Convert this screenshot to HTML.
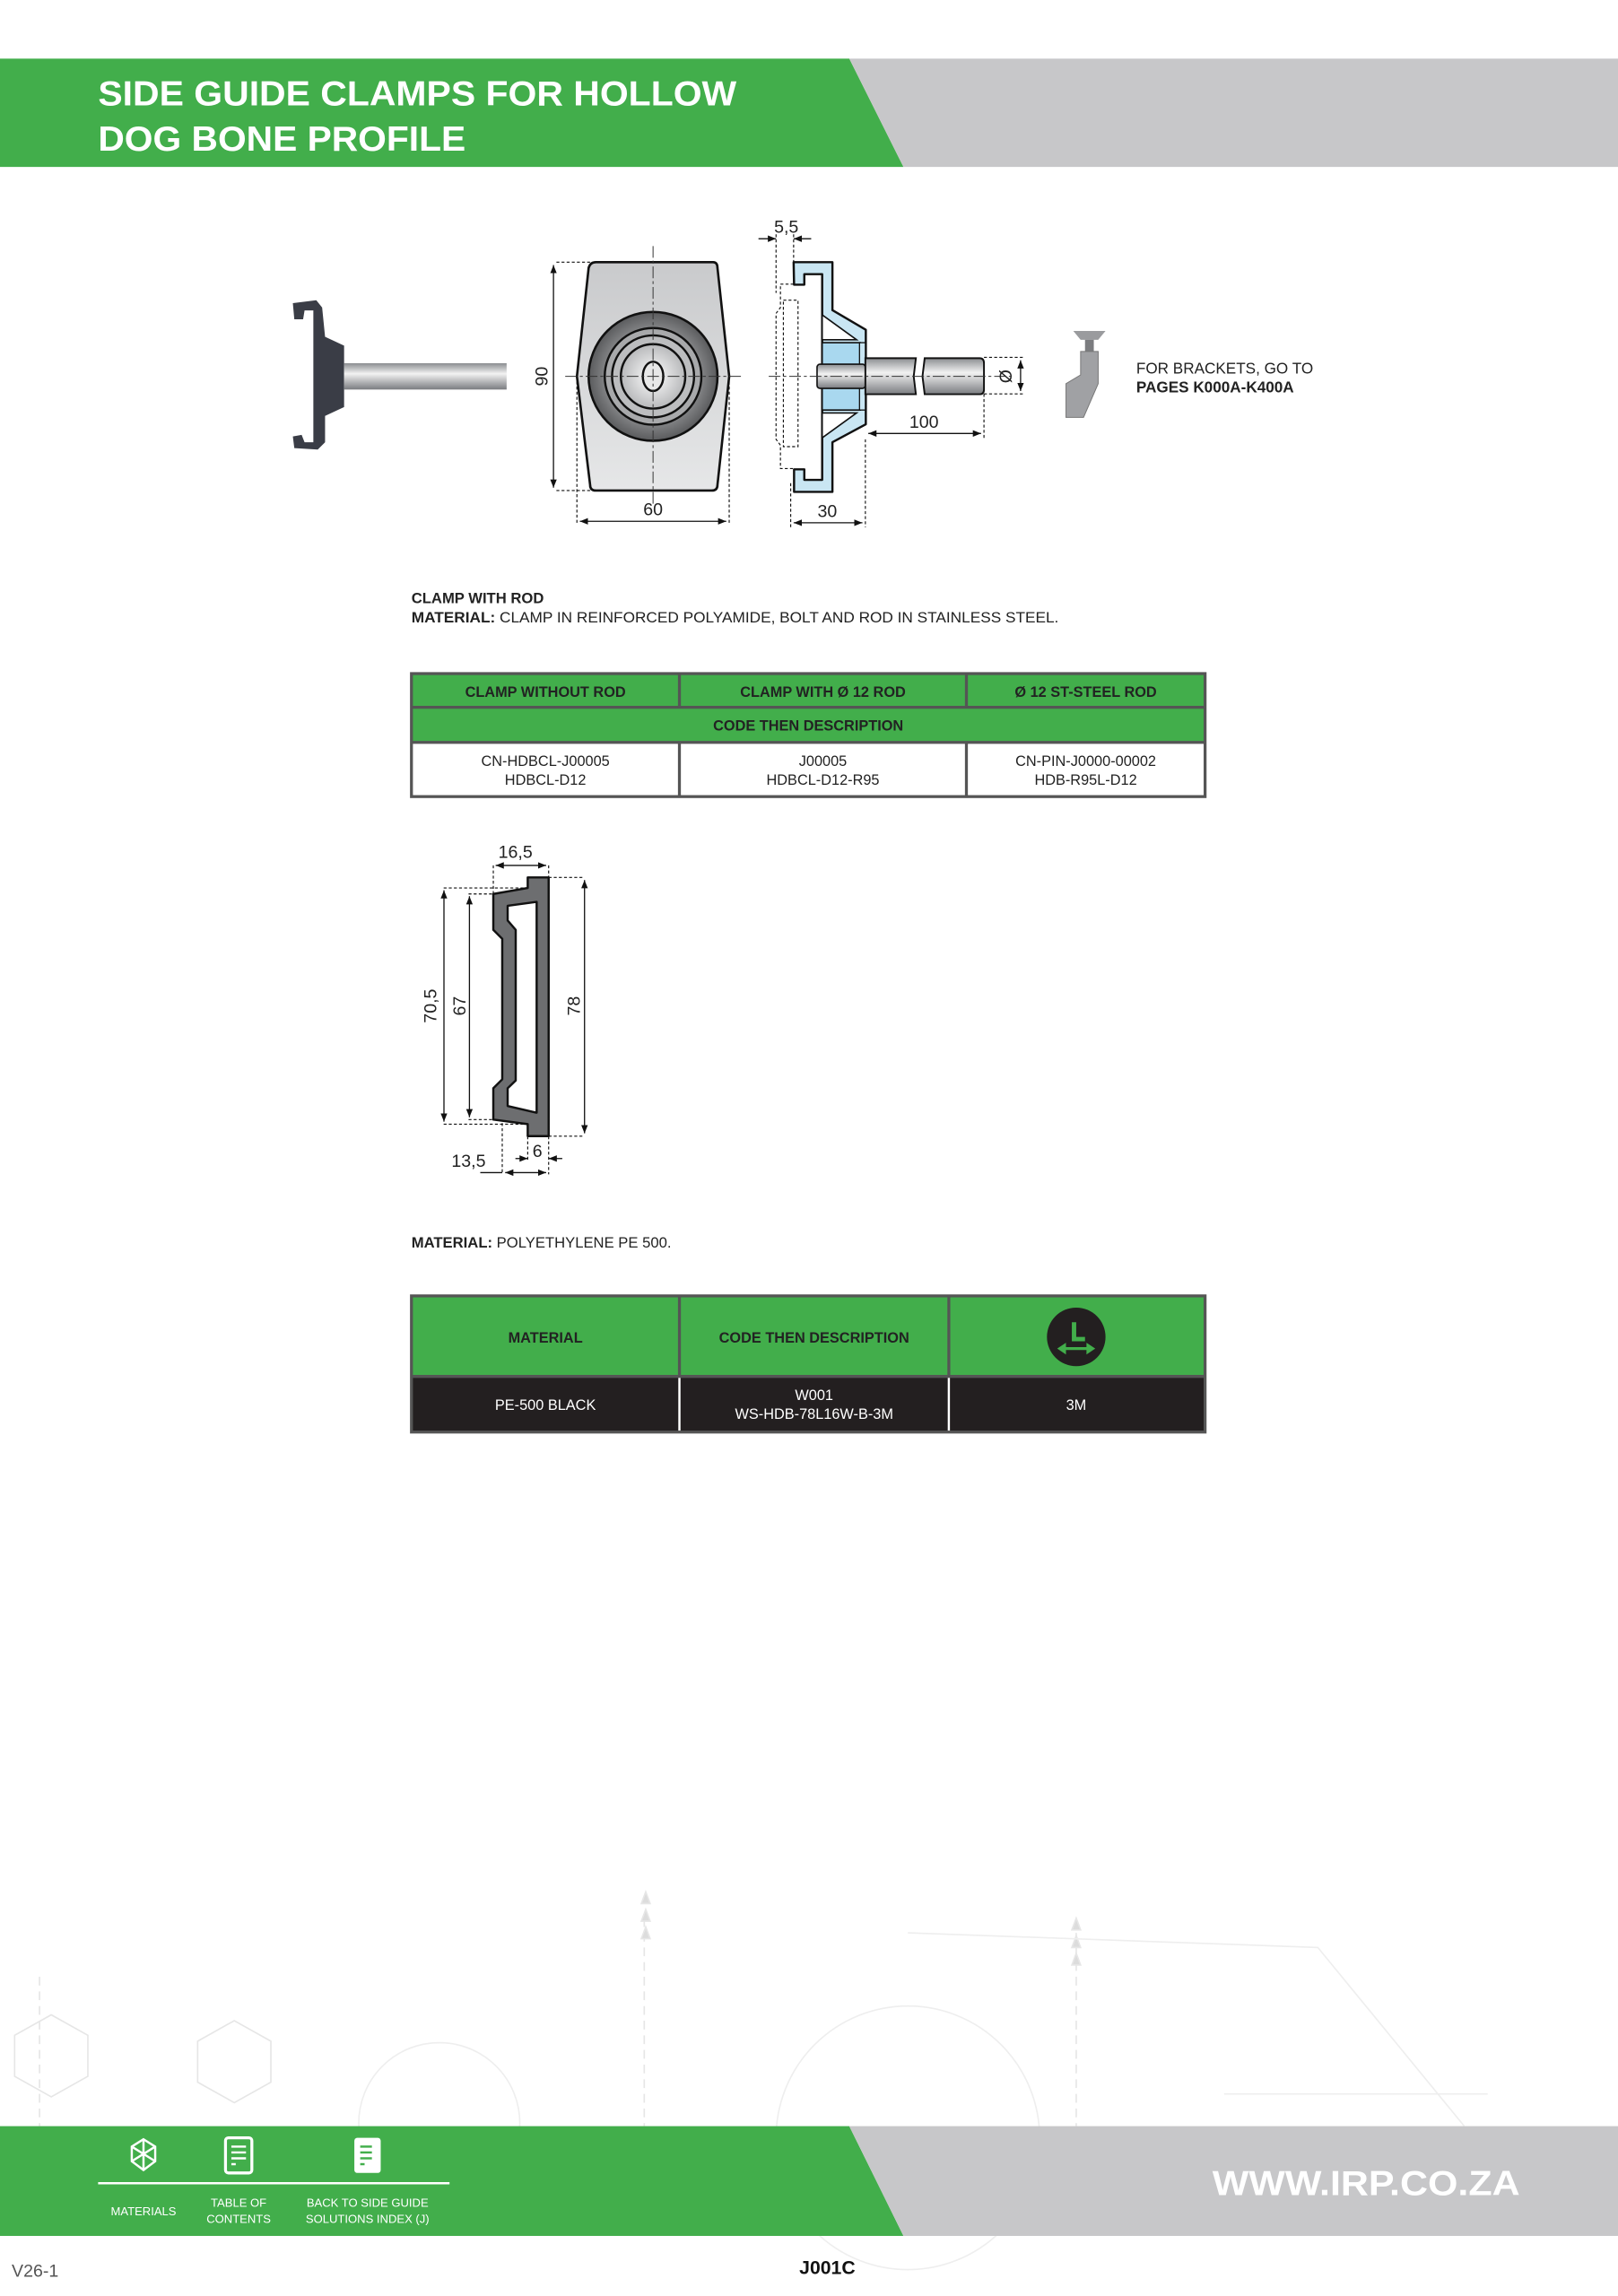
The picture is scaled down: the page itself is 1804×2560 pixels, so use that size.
<!DOCTYPE html>
<html><head><meta charset="utf-8"><style>
html,body{margin:0;padding:0;background:#fff}
svg{display:block}
text{font-family:"Liberation Sans",sans-serif}
</style></head><body>
<svg width="1804" height="2560" viewBox="0 0 1105 1568" xmlns="http://www.w3.org/2000/svg">
<defs>
<linearGradient id="body" x1="0" y1="0" x2="0" y2="1"><stop offset="0" stop-color="#c9cacc"/><stop offset="1" stop-color="#e6e7e8"/></linearGradient>
<linearGradient id="rod" x1="0" y1="0" x2="0" y2="1"><stop offset="0" stop-color="#8a8d90"/><stop offset="0.4" stop-color="#f2f2f2"/><stop offset="1" stop-color="#7a7c80"/></linearGradient>
<radialGradient id="ring" cx="0.5" cy="0.5" r="0.5"><stop offset="0.6" stop-color="#9a9b9d"/><stop offset="1" stop-color="#5a5b5d"/></radialGradient>
<radialGradient id="hub" cx="0.5" cy="0.5" r="0.5"><stop offset="0" stop-color="#ffffff"/><stop offset="1" stop-color="#b8b9bb"/></radialGradient>
<marker id="a" viewBox="0 0 10 10" refX="10" refY="5" markerWidth="7" markerHeight="7" orient="auto-start-reverse"><path d="M0,1 L10,5 L0,9 Z" fill="#111"/></marker>
</defs>

<!-- faint background -->
<g stroke="#e6e6e6" fill="none" stroke-width="1">
<line x1="440" y1="1310" x2="440" y2="1452" stroke-dasharray="6 4"/>
<line x1="735" y1="1320" x2="735" y2="1452" stroke-dasharray="6 4"/>
<line x1="27" y1="1350" x2="27" y2="1452" stroke-dasharray="6 4"/>
<path d="M438,1300 l3,-8 l3,8 z M438,1312 l3,-8 l3,8 z M438,1324 l3,-8 l3,8 z" fill="#dcdcdc"/>
<path d="M732,1318 l3,-8 l3,8 z M732,1330 l3,-8 l3,8 z M732,1342 l3,-8 l3,8 z" fill="#dcdcdc"/>
<polygon points="10,1390 35,1376 60,1390 60,1418 35,1432 10,1418"/>
<polygon points="135,1394 160,1380 185,1394 185,1422 160,1436 135,1422"/>
<circle cx="300" cy="1450" r="55" stroke="#eeeeee"/>
<circle cx="620" cy="1460" r="90" stroke="#eeeeee"/>
<path d="M620,1320 L900,1330 L1000,1452" stroke="#eeeeee"/>
<path d="M836,1430 L1016,1430" stroke="#eeeeee"/>
</g>

<!-- header -->
<polygon points="0,40 580,40 617,114 0,114" fill="#42ae4b"/>
<polygon points="580,40 1105,40 1105,114 617,114" fill="#c7c7c9"/>
<text x="67" y="72" font-size="24" font-weight="bold" fill="#fff" textLength="436" lengthAdjust="spacingAndGlyphs">SIDE GUIDE CLAMPS FOR HOLLOW</text>
<text x="67" y="103" font-size="24" font-weight="bold" fill="#fff" textLength="251" lengthAdjust="spacingAndGlyphs">DOG BONE PROFILE</text>

<!-- photo clamp -->
<path d="M200,207 L216,205 L220,210 L222,230 L235,236 L235,278 L222,284 L222,302 L217,307 L201,306 L200,298 L206,297 L208,302 L214,302 L214,212 L208,212 L207,218 L201,218 Z" fill="#3a3d46"/>
<rect x="235" y="248" width="111" height="18" fill="url(#rod)"/>

<!-- front view -->
<g stroke="#111" stroke-width="0.7" fill="none">
<line x1="380" y1="179" x2="405" y2="179" stroke-dasharray="2 1.5"/>
<line x1="380" y1="335" x2="404" y2="335" stroke-dasharray="2 1.5"/>
<line x1="394" y1="257" x2="394" y2="358" stroke-dasharray="2 1.5"/>
<line x1="498" y1="257" x2="498" y2="358" stroke-dasharray="2 1.5"/>
</g>
<path d="M407,179 L487,179 Q490,179 490,183 L498,257 L490,331 Q490,335 486,335 L407,335 Q403,335 403,331 L394,257 L402,183 Q403,179 407,179 Z" fill="url(#body)" stroke="#111" stroke-width="1.6"/>
<circle cx="446" cy="257" r="44" fill="url(#ring)" stroke="#111" stroke-width="1.6"/>
<circle cx="446" cy="257" r="33" fill="#a8a9ab" stroke="#111" stroke-width="1.5"/>
<circle cx="446" cy="257" r="28" fill="#bcbdbf" stroke="#111" stroke-width="1.5"/>
<circle cx="446" cy="257" r="22" fill="url(#hub)" stroke="#111" stroke-width="1.5"/>
<ellipse cx="446" cy="257" rx="7" ry="10" fill="#e8e8e8" stroke="#111" stroke-width="1.5"/>
<g stroke="#333" stroke-width="0.6" stroke-dasharray="8 2 2 2">
<line x1="386" y1="257" x2="506" y2="257"/>
<line x1="446" y1="168" x2="446" y2="345"/>
</g>
<line x1="378" y1="181" x2="378" y2="333" stroke="#111" stroke-width="0.8" marker-start="url(#a)" marker-end="url(#a)"/>
<text x="374" y="257" font-size="12" fill="#222" text-anchor="middle" transform="rotate(-90 374 257)">90</text>
<line x1="396" y1="356" x2="496" y2="356" stroke="#111" stroke-width="0.8" marker-start="url(#a)" marker-end="url(#a)"/>
<text x="446" y="352" font-size="12" fill="#222" text-anchor="middle">60</text>

<!-- side view -->
<g stroke="#111" stroke-width="0.7" fill="none" stroke-dasharray="2 1.5">
<line x1="530" y1="160" x2="530" y2="200"/>
<line x1="542" y1="160" x2="542" y2="180"/>
<path d="M542,194 L533,194 L533,210 L530,214 L530,300 L533,304 L533,320 L542,320"/>
<rect x="535" y="205" width="10" height="100"/>
<line x1="540" y1="330" x2="540" y2="360"/>
<line x1="591" y1="300" x2="591" y2="360"/>
<line x1="672" y1="269" x2="672" y2="300"/>
<line x1="672" y1="244" x2="700" y2="244"/>
<line x1="672" y1="269" x2="700" y2="269"/>
</g>
<path d="M542,179 L568.5,179 L568.5,211.8 L591.3,225.2 L591.3,289.7 L568.5,302 L568.5,335.9 L542.3,335.9 L542.3,320.5 L549.3,320.5 L549.3,327.7 L561.5,327.7 L561.5,187.2 L549.3,187.2 L549.3,194.4 L542.3,194.4 Z" fill="#c9e6f3" stroke="#111" stroke-width="1.5" stroke-linejoin="round"/>
<path d="M561.5,215 L585,232 L561.5,232 Z M561.5,299 L585,282 L561.5,282 Z" fill="#fff" stroke="#111" stroke-width="1"/>
<rect x="561.5" y="234" width="26" height="46" fill="#a9d8ef" stroke="#111" stroke-width="1"/>
<rect x="587" y="234" width="4" height="46" fill="#c9e6f3" stroke="#111" stroke-width="0.8"/>
<rect x="558" y="248.7" width="33" height="16.5" rx="2" fill="url(#rod)" stroke="#111" stroke-width="1"/>
<path d="M591,244.6 L625.5,244.6 L624,257 L625.5,269.2 L591,269.2 Z" fill="url(#rod)" stroke="#111" stroke-width="1.2"/>
<path d="M631.5,244.6 L669,244.6 Q672,244.6 672,248 L672,266 Q672,269.2 669,269.2 L631.5,269.2 L630,257 Z" fill="url(#rod)" stroke="#111" stroke-width="1.2"/>
<line x1="525" y1="257" x2="690" y2="257" stroke="#333" stroke-width="0.6" stroke-dasharray="8 2 2 2"/>
<line x1="518" y1="163" x2="530" y2="163" stroke="#111" stroke-width="0.8" marker-end="url(#a)"/>
<line x1="554" y1="163" x2="542" y2="163" stroke="#111" stroke-width="0.8" marker-end="url(#a)"/>
<text x="537" y="159" font-size="12" fill="#222" text-anchor="middle">5,5</text>
<line x1="593" y1="296" x2="670" y2="296" stroke="#111" stroke-width="0.8" marker-start="url(#a)" marker-end="url(#a)"/>
<text x="631" y="292" font-size="12" fill="#222" text-anchor="middle">100</text>
<line x1="542" y1="357" x2="589" y2="357" stroke="#111" stroke-width="0.8" marker-start="url(#a)" marker-end="url(#a)"/>
<text x="565" y="353" font-size="12" fill="#222" text-anchor="middle">30</text>
<line x1="697" y1="246" x2="697" y2="267" stroke="#111" stroke-width="0.8" marker-start="url(#a)" marker-end="url(#a)"/>
<text x="691" y="257" font-size="12" fill="#222" text-anchor="middle" transform="rotate(-90 691 257)">Ø</text>

<!-- bracket -->
<path d="M733,226 L755,226 L750,232 L738,232 Z" fill="#9a9b9e"/>
<rect x="741" y="232" width="6" height="8" fill="#7b7c7f"/>
<path d="M738,240 L750,240 L750,262 L740,285 L728,285 L728,262 L738,256 Z" fill="#a0a1a4" stroke="#777" stroke-width="0.6"/>
<text x="776" y="255" font-size="10.5" fill="#222">FOR BRACKETS, GO TO</text>
<text x="776" y="268" font-size="10.5" font-weight="bold" fill="#222">PAGES K000A-K400A</text>

<!-- section 1 text -->
<text x="281" y="412" font-size="10.2" font-weight="bold" fill="#222">CLAMP WITH ROD</text>
<text x="281" y="425" font-size="10.2" fill="#222" textLength="442" lengthAdjust="spacingAndGlyphs"><tspan font-weight="bold">MATERIAL:</tspan> CLAMP IN REINFORCED POLYAMIDE, BOLT AND ROD IN STAINLESS STEEL.</text>

<!-- table 1 -->
<rect x="281" y="460" width="542" height="47" fill="#42ae4b"/>
<rect x="281" y="507" width="542" height="37" fill="#fff"/>
<g stroke="#555" stroke-width="2" fill="none">
<rect x="281" y="460" width="542" height="84"/>
<line x1="281" y1="483" x2="823" y2="483"/>
<line x1="281" y1="507" x2="823" y2="507"/>
<line x1="464" y1="460" x2="464" y2="483"/>
<line x1="660" y1="460" x2="660" y2="483"/>
<line x1="464" y1="507" x2="464" y2="544"/>
<line x1="660" y1="507" x2="660" y2="544"/>
</g>
<g font-size="10" font-weight="bold" fill="#222" text-anchor="middle">
<text x="372.5" y="476">CLAMP WITHOUT ROD</text>
<text x="562" y="476">CLAMP WITH Ø 12 ROD</text>
<text x="741.5" y="476">Ø 12 ST-STEEL ROD</text>
<text x="552" y="499">CODE THEN DESCRIPTION</text>
</g>
<g font-size="10" fill="#222" text-anchor="middle">
<text x="372.5" y="523">CN-HDBCL-J00005</text>
<text x="372.5" y="536">HDBCL-D12</text>
<text x="562" y="523">J00005</text>
<text x="562" y="536">HDBCL-D12-R95</text>
<text x="741.5" y="523">CN-PIN-J0000-00002</text>
<text x="741.5" y="536">HDB-R95L-D12</text>
</g>

<!-- profile -->
<g stroke="#111" stroke-width="0.7" fill="none" stroke-dasharray="2 1.5">
<line x1="336.9" y1="591" x2="336.9" y2="610"/>
<line x1="374.7" y1="591" x2="374.7" y2="599"/>
<line x1="374.7" y1="599.2" x2="399" y2="599.2"/>
<line x1="374.7" y1="775.9" x2="399" y2="775.9"/>
<line x1="303" y1="606.4" x2="360" y2="606.4"/>
<line x1="303" y1="767.7" x2="360" y2="767.7"/>
<line x1="320" y1="610.5" x2="337" y2="610.5"/>
<line x1="320" y1="764.6" x2="337" y2="764.6"/>
<line x1="343" y1="760" x2="343" y2="802"/>
<line x1="360.4" y1="776" x2="360.4" y2="793"/>
<line x1="374.7" y1="776" x2="374.7" y2="802"/>
</g>
<path d="M360.4,599.2 L374.7,599.2 L374.7,775.9 L360.4,775.9 L360.4,767.7 L336.9,764.6 L336.9,743.2 L343,737.1 L343,641.1 L336.9,635 L336.9,610.5 L360.4,606.4 Z" fill="#6d6e70" stroke="#111" stroke-width="1.5" stroke-linejoin="round"/>
<path d="M346.7,618.6 L366.5,615.9 L366.5,759.9 L346.7,755.3 L346.7,743.2 L352.2,737.9 L352.2,635 L346.7,628.6 Z" fill="#fff" stroke="#111" stroke-width="1.5" stroke-linejoin="round"/>
<line x1="338.5" y1="591" x2="373" y2="591" stroke="#111" stroke-width="0.8" marker-start="url(#a)" marker-end="url(#a)"/>
<text x="352" y="586" font-size="12" fill="#222" text-anchor="middle">16,5</text>
<line x1="399.2" y1="601" x2="399.2" y2="774" stroke="#111" stroke-width="0.8" marker-start="url(#a)" marker-end="url(#a)"/>
<text x="396" y="687" font-size="12" fill="#222" text-anchor="middle" transform="rotate(-90 396 687)">78</text>
<line x1="303.2" y1="608" x2="303.2" y2="766" stroke="#111" stroke-width="0.8" marker-start="url(#a)" marker-end="url(#a)"/>
<text x="298" y="687" font-size="12" fill="#222" text-anchor="middle" transform="rotate(-90 298 687)">70,5</text>
<line x1="320.6" y1="612" x2="320.6" y2="763" stroke="#111" stroke-width="0.8" marker-start="url(#a)" marker-end="url(#a)"/>
<text x="318" y="687" font-size="12" fill="#222" text-anchor="middle" transform="rotate(-90 318 687)">67</text>
<line x1="352" y1="791.2" x2="360.4" y2="791.2" stroke="#111" stroke-width="0.8" marker-end="url(#a)"/>
<line x1="384" y1="791.2" x2="374.7" y2="791.2" stroke="#111" stroke-width="0.8" marker-end="url(#a)"/>
<text x="367" y="790" font-size="12" fill="#222" text-anchor="middle">6</text>
<line x1="328" y1="800.8" x2="343" y2="800.8" stroke="#111" stroke-width="0.8"/>
<line x1="345" y1="800.8" x2="373" y2="800.8" stroke="#111" stroke-width="0.8" marker-start="url(#a)" marker-end="url(#a)"/>
<text x="320" y="797" font-size="12" fill="#222" text-anchor="middle">13,5</text>

<text x="281" y="852" font-size="10.2" fill="#222"><tspan font-weight="bold">MATERIAL:</tspan> POLYETHYLENE PE 500.</text>

<!-- table 2 -->
<rect x="281" y="885" width="542" height="55" fill="#42ae4b"/>
<rect x="281" y="940" width="542" height="38" fill="#231f20"/>
<g stroke="#555" stroke-width="2" fill="none">
<rect x="281" y="885" width="542" height="93"/>
<line x1="281" y1="940" x2="823" y2="940"/>
<line x1="464" y1="885" x2="464" y2="940"/>
<line x1="648" y1="885" x2="648" y2="940"/>
</g>
<line x1="464" y1="941" x2="464" y2="977" stroke="#fff" stroke-width="1.5"/>
<line x1="648" y1="941" x2="648" y2="977" stroke="#fff" stroke-width="1.5"/>
<g font-size="10" font-weight="bold" fill="#222" text-anchor="middle">
<text x="372.5" y="917">MATERIAL</text>
<text x="556" y="917">CODE THEN DESCRIPTION</text>
</g>
<circle cx="735" cy="913" r="20" fill="#231f20"/>
<path d="M732,903 L735,903 L735,913 L741,913 L741,916 L732,916 Z" fill="#42ae4b"/>
<path d="M722,921 L728,917 L728,920 L742,920 L742,917 L748,921 L742,925 L742,922 L728,922 L728,925 Z" fill="#42ae4b"/>
<g font-size="10" fill="#fff" text-anchor="middle">
<text x="372.5" y="963">PE-500 BLACK</text>
<text x="556" y="956">W001</text>
<text x="556" y="969">WS-HDB-78L16W-B-3M</text>
<text x="735" y="963">3M</text>
</g>

<!-- footer -->
<polygon points="0,1452 580,1452 617,1527 0,1527" fill="#42ae4b"/>
<polygon points="580,1452 1105,1452 1105,1527 617,1527" fill="#c7c7c9"/>
<g fill="none" stroke="#fff" stroke-width="1.5">
<path d="M98,1461 L106,1466 L106,1476 L98,1482 L90,1476 L90,1466 Z"/>
<path d="M90,1466 L106,1476 M106,1466 L90,1476 M98,1461 L98,1482"/>
</g>
<rect x="154" y="1460" width="18" height="24" rx="2" fill="none" stroke="#fff" stroke-width="2"/>
<g stroke="#fff" stroke-width="1.5"><line x1="158" y1="1466" x2="168" y2="1466"/><line x1="158" y1="1470" x2="168" y2="1470"/><line x1="158" y1="1474" x2="168" y2="1474"/><line x1="158" y1="1478" x2="161" y2="1478"/></g>
<rect x="242" y="1460" width="18" height="24" rx="2" fill="#fff"/>
<g stroke="#42ae4b" stroke-width="1.5"><line x1="246" y1="1466" x2="254" y2="1466"/><line x1="246" y1="1470" x2="254" y2="1470"/><line x1="246" y1="1474" x2="254" y2="1474"/><line x1="246" y1="1478" x2="249" y2="1478"/></g>
<line x1="67" y1="1491" x2="307" y2="1491" stroke="#fff" stroke-width="1.5"/>
<g font-size="8" fill="#fff" text-anchor="middle">
<text x="98" y="1513">MATERIALS</text>
<text x="163" y="1507">TABLE OF</text>
<text x="163" y="1518">CONTENTS</text>
<text x="251" y="1507">BACK TO SIDE GUIDE</text>
<text x="251" y="1518">SOLUTIONS INDEX (J)</text>
</g>
<text x="828" y="1499" font-size="24" font-weight="bold" fill="#fff" textLength="210" lengthAdjust="spacingAndGlyphs">WWW.IRP.CO.ZA</text>
<text x="8" y="1555" font-size="12" fill="#555">V26-1</text>
<text x="565" y="1553" font-size="13" font-weight="bold" fill="#111" text-anchor="middle">J001C</text>
</svg>
</body></html>
